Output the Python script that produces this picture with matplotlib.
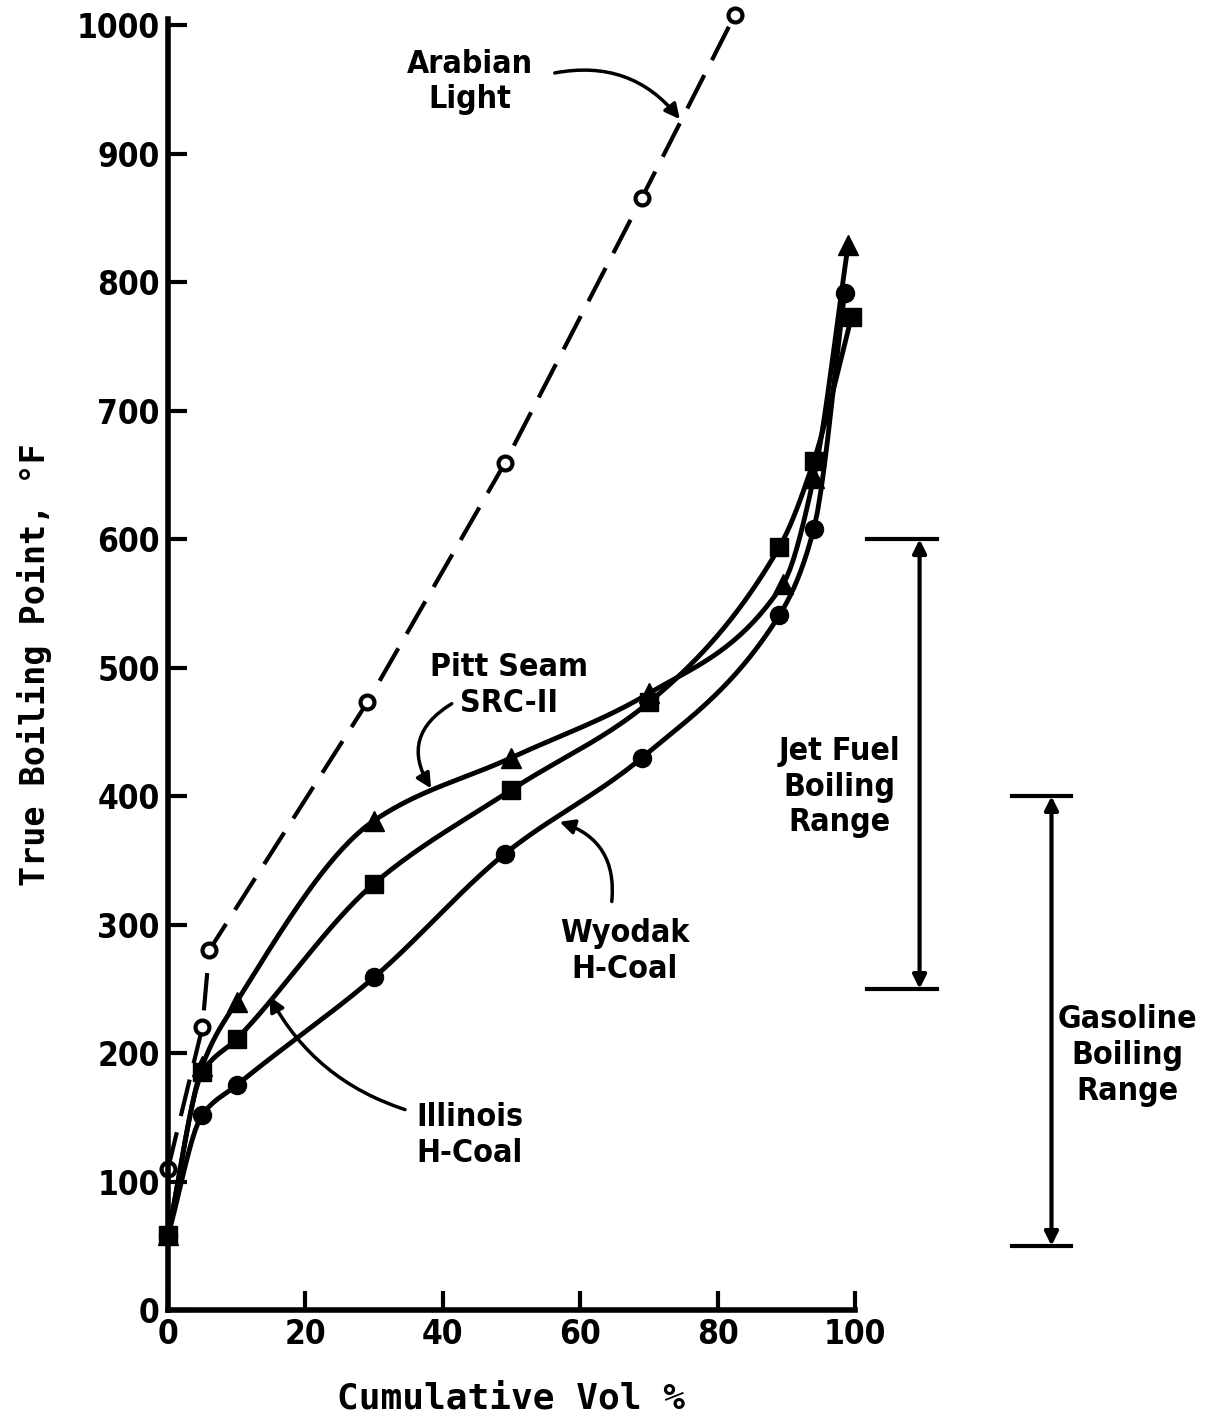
import numpy as np
import matplotlib
matplotlib.use("Agg")
import matplotlib.pyplot as plt

# data (x = cumulative vol %, y = TBP degF)
arab_x = [0, 5, 6, 29, 49, 69, 82.5]
arab_y = [110, 220, 280, 473, 659, 866, 1008]

wyodak_x = [0, 5, 10, 30, 49, 69, 89, 94, 98.5]
wyodak_y = [58, 152, 175, 259, 355, 430, 541, 608, 792]

illinois_x = [0, 5, 10, 30, 50, 70, 89, 94, 99.5]
illinois_y = [58, 185, 211, 332, 405, 473, 594, 661, 773]

pitt_x = [0, 5, 10, 30, 50, 70, 89.5, 94, 99]
pitt_y = [58, 190, 240, 381, 430, 480, 565, 648, 829]

jet_range = [250, 600]
gasoline_range = [50, 400]

x_ticks = [0, 20, 40, 60, 80, 100]
y_ticks = list(range(0, 1001, 100))


def smooth(x, y, n=200):
    # monotone cubic hermite, just for drawing the hand-drawn looking curves
    x = np.asarray(x, float)
    y = np.asarray(y, float)
    h = np.diff(x)
    d = np.diff(y) / h
    m = np.zeros_like(y)
    m[0], m[-1] = d[0], d[-1]
    for i in range(1, len(x) - 1):
        if d[i - 1] * d[i] > 0:
            w1 = 2 * h[i] + h[i - 1]
            w2 = h[i] + 2 * h[i - 1]
            m[i] = (w1 + w2) / (w1 / d[i - 1] + w2 / d[i])
    xs = np.linspace(x[0], x[-1], n)
    k = np.clip(np.searchsorted(x, xs) - 1, 0, len(x) - 2)
    t = (xs - x[k]) / h[k]
    h00 = 2 * t**3 - 3 * t**2 + 1
    h10 = t**3 - 2 * t**2 + t
    h01 = -2 * t**3 + 3 * t**2
    h11 = t**3 - t**2
    ys = h00 * y[k] + h10 * h[k] * m[k] + h01 * y[k + 1] + h11 * h[k] * m[k + 1]
    return xs, ys


lab_font = dict(family="DejaVu Sans", stretch="condensed", weight="bold", size=23)
axis_font = dict(family="DejaVu Sans Mono", weight="bold")

fig = plt.figure(figsize=(12.11, 14.14), dpi=100)
ax = fig.add_axes([168 / 1211, 1 - 1310 / 1414, 687 / 1211, 1291 / 1414])

lw = 3.5
# Arabian light is drawn as a plain dashed polyline
ax.plot(arab_x, arab_y, color="k", lw=3, dashes=(9, 4), clip_on=False)
ax.plot(arab_x, arab_y, "o", ms=10, mfc="white", mec="k", mew=3, clip_on=False)

for xd, yd, mk, ms in [(wyodak_x, wyodak_y, "o", 13),
                       (illinois_x, illinois_y, "s", 13),
                       (pitt_x, pitt_y, "^", 14)]:
    xs, ys = smooth(xd, yd)
    ax.plot(xs, ys, color="k", lw=lw, clip_on=False)
    ax.plot(xd, yd, mk, ms=ms, color="k", clip_on=False)

ax.set_xlim(0, 100)
ax.set_ylim(0, 1005)
ax.spines["top"].set_visible(False)
ax.spines["right"].set_visible(False)
for s in ["left", "bottom"]:
    ax.spines[s].set_linewidth(4)
ax.set_xticks(x_ticks)
ax.set_yticks(y_ticks)
ax.tick_params(direction="in", length=14, width=3, pad=6)
for lbl in ax.get_xticklabels() + ax.get_yticklabels():
    lbl.set_fontfamily("DejaVu Sans")
    lbl.set_fontstretch("condensed")
    lbl.set_fontweight("bold")
    lbl.set_fontsize(24)

ax.set_xlabel("Cumulative Vol %", fontsize=26, labelpad=22, **axis_font)
ax.set_ylabel("True Boiling Point, \u00b0F", fontsize=24, labelpad=18, **axis_font)

# curve labels
ax.text(43.9, 956, "Arabian\nLight", ha="center", va="center", linespacing=1.2, **lab_font)
ax.text(49.7, 486, "Pitt Seam\nSRC-II", ha="center", va="center", linespacing=1.2, **lab_font)
ax.text(66.5, 279, "Wyodak\nH-Coal", ha="center", va="center", linespacing=1.2, **lab_font)
ax.text(43.9, 136, "Illinois\nH-Coal", ha="center", va="center", linespacing=1.2, **lab_font)

arrow = dict(arrowstyle="-|>", color="k", lw=2.5, mutation_scale=22, shrinkA=0, shrinkB=0)
ax.annotate("", xy=(74.5, 927), xytext=(56.3, 963),
            arrowprops=dict(arrow, connectionstyle="arc3,rad=-0.3"))
ax.annotate("", xy=(38.3, 406), xytext=(41.3, 472),
            arrowprops=dict(arrow, connectionstyle="arc3,rad=0.5"))
ax.annotate("", xy=(57.0, 380), xytext=(64.6, 318),
            arrowprops=dict(arrow, connectionstyle="arc3,rad=0.4"))
ax.annotate("", xy=(14.8, 244), xytext=(34.5, 156),
            arrowprops=dict(arrow, connectionstyle="arc3,rad=-0.2"))

# boiling range brackets
for xa, (c0, c1), rng, txt, tx, ty in [
        (109.4, (101.8, 112.0), jet_range, "Jet Fuel\nBoiling\nRange", 97.7, 407),
        (128.6, (122.8, 131.5), gasoline_range, "Gasoline\nBoiling\nRange", 139.6, 198)]:
    for yv in rng:
        ax.plot([c0, c1], [yv, yv], color="k", lw=3, clip_on=False)
    ax.annotate("", xy=(xa, rng[1]), xytext=(xa, rng[0]), annotation_clip=False,
                arrowprops=dict(arrowstyle="<|-|>", color="k", lw=3, mutation_scale=20,
                                shrinkA=0, shrinkB=0))
    ax.text(tx, ty, txt, ha="center", va="center", linespacing=1.2, **lab_font)

fig.savefig("out.png", dpi=100)
